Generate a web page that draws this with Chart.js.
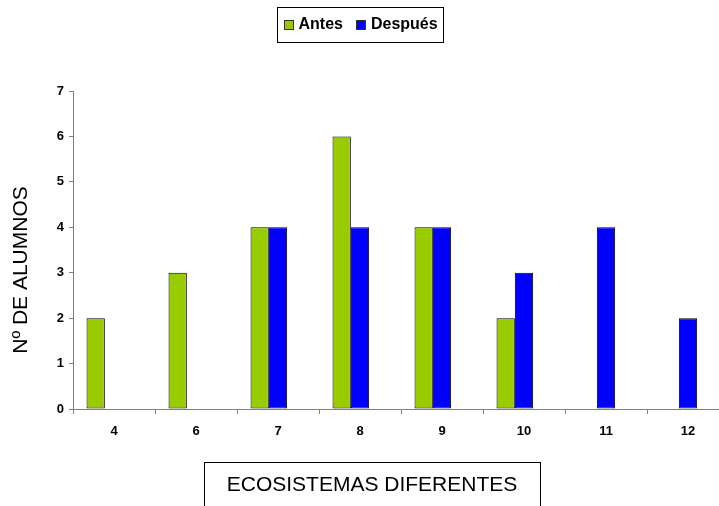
<!DOCTYPE html>
<html>
<head>
<meta charset="utf-8">
<script src="https://cdn.jsdelivr.net/npm/chart.js@4/dist/chart.umd.min.js"></script>
<style>
  html, body { margin: 0; padding: 0; background: #fff; overflow: hidden; width: 719px; height: 506px; }
  #wrap { position: absolute; left: 0; top: 0; width: 760px; height: 506px; }
</style>
</head>
<body>
<div id="wrap"><canvas id="c" width="760" height="506"></canvas></div>
<script>
// Number of different ecosystems named by each student
const categories = ['4', '6', '7', '8', '9', '10', '11', '12'];
// Students per category, before and after
const antes   = [2, 3, 4, 6, 4, 2, null, null];
const despues = [null, null, 4, 4, 4, 3, 4, 2];
// Third, empty series slot of the original workbook layout
const blankSeries = [null, null, null, null, null, null, null, null];
const yTicks = [0, 1, 2, 3, 4, 5, 6, 7];

const seriesNames = ['Antes', 'Después'];
const xTitle = 'ECOSISTEMAS DIFERENTES';
const yTitle = 'Nº DE ALUMNOS';

const GREEN = '#99CC00';
const BLUE = '#0000FF';
const FONT = '"Liberation Sans", Arial, sans-serif';

// Legend box with border, plus boxed x title and rotated y title
const decorations = {
  id: 'decorations',
  afterDraw(chart) {
    const ctx = chart.ctx;
    ctx.save();
    // legend
    const items = chart.data.datasets.filter(d => d.label);
    ctx.font = 'bold 16px ' + FONT;
    const sq = 10, gap = 5, between = 13, padX = 6;
    let total = 0;
    items.forEach((d, i) => {
      total += sq + gap + ctx.measureText(d.label).width + (i < items.length - 1 ? between : 0);
    });
    const cx = 360.5;
    const boxL = Math.round(cx - total / 2 - padX) + 0.5;
    const boxW = Math.round(total + padX * 2);
    ctx.strokeStyle = '#000';
    ctx.lineWidth = 1;
    ctx.strokeRect(boxL, 7.5, boxW, 35);
    let x = boxL + padX;
    const midY = 25;
    items.forEach(d => {
      ctx.fillStyle = d.backgroundColor;
      ctx.fillRect(Math.round(x), midY - 5, sq, sq);
      ctx.strokeStyle = '#333';
      ctx.strokeRect(Math.round(x) + 0.5, midY - 4.5, sq - 1, sq - 1);
      x += sq + gap;
      ctx.fillStyle = '#000';
      ctx.textBaseline = 'middle';
      ctx.textAlign = 'left';
      ctx.fillText(d.label, x, midY);
      x += ctx.measureText(d.label).width + between;
    });
    // x title in a box
    ctx.strokeStyle = '#000';
    ctx.strokeRect(204.5, 462.5, 336, 60);
    ctx.fillStyle = '#000';
    ctx.font = '21px ' + FONT;
    ctx.textAlign = 'center';
    ctx.textBaseline = 'middle';
    ctx.fillText(xTitle, 372, 485);
    // y title
    ctx.translate(21, 270);
    ctx.rotate(-Math.PI / 2);
    ctx.font = '21px ' + FONT;
    ctx.fillText(yTitle, 0, 0);
    ctx.restore();
  }
};

new Chart(document.getElementById('c'), {
  type: 'bar',
  data: {
    labels: categories,
    datasets: [
      { label: seriesNames[0], data: antes, backgroundColor: GREEN, borderColor: '#000', borderWidth: 1, borderSkipped: false },
      { label: seriesNames[1], data: despues, backgroundColor: BLUE, borderColor: '#000', borderWidth: 1, borderSkipped: false },
      { label: '', data: blankSeries, backgroundColor: '#fff', borderWidth: 0 }
    ]
  },
  options: {
    responsive: false,
    animation: false,
    layout: { padding: { top: 91, right: 31, bottom: 0, left: 0 } },
    datasets: { bar: { categoryPercentage: 0.67, barPercentage: 1.0 } },
    plugins: {
      legend: { display: false },
      tooltip: { enabled: false }
    },
    scales: {
      x: {
        grid: { display: true, offset: true, drawOnChartArea: false, drawTicks: true, tickLength: 5, color: '#808080' },
        border: { display: true, color: '#808080', width: 1 },
        ticks: { color: '#000', font: { family: FONT, size: 13, weight: 'bold' }, padding: 10, maxRotation: 0 },
        afterFit(scale) { scale.height = 97; }
      },
      y: {
        min: 0, max: 7,
        afterBuildTicks(scale) { scale.ticks = yTicks.map(v => ({ value: v })); },
        grid: { display: true, drawOnChartArea: false, drawTicks: true, tickLength: 4, color: '#808080' },
        border: { display: true, color: '#808080', width: 1 },
        ticks: { color: '#000', font: { family: FONT, size: 13, weight: 'bold' }, padding: 5 },
        afterFit(scale) { scale.width = 73; }
      }
    }
  },
  plugins: [decorations]
});
</script>
</body>
</html>
